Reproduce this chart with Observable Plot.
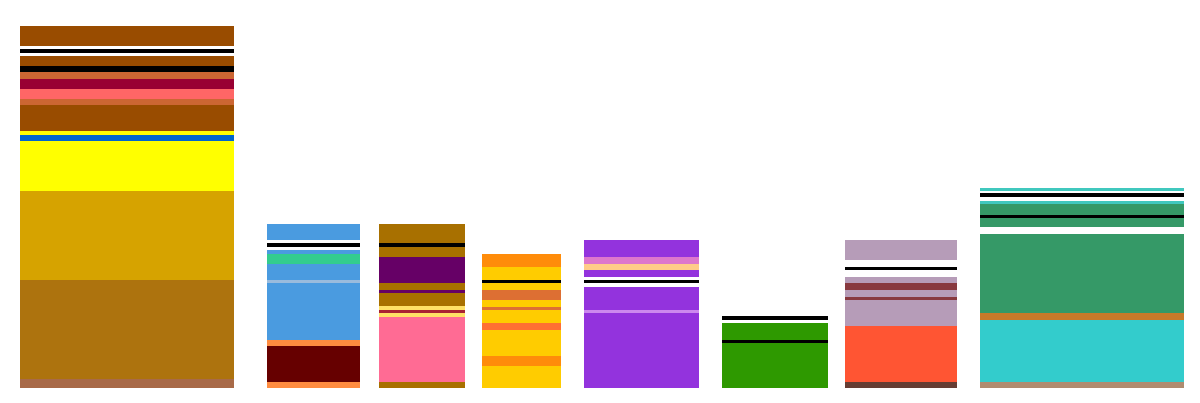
<!DOCTYPE html>
<html>
<head>
<meta charset="utf-8">
<script src="https://cdn.jsdelivr.net/npm/d3@7"></script>
<script src="https://cdn.jsdelivr.net/npm/@observablehq/plot@0.6"></script>
<style>
  html, body { margin: 0; padding: 0; background: #fff; }
  #chart svg { display: block; }
</style>
</head>
<body>
<div id="chart"></div>
<script>
// Categories (one stacked column each)
const categories = ["A", "B", "C", "D", "E", "F", "G", "H"];
// Column extents on the x axis
const xStart = [20, 267, 379, 482, 584, 722, 845, 980];
const xEnd   = [234, 360, 465, 561, 699, 828, 957, 1184];

// Segment values, bottom to top, and their colour keys
const valuesA = [9, 99, 89, 50, 6, 4, 26, 6, 10, 10, 7, 6, 10, 3, 4, 3, 20];
const keysA   = ["sienna","dkgold","gold","yellow","blue","yellow","brown","rust","salmon","crimson","rust","black","brown","white","black","white","brown"];

const valuesB = [6, 36, 6, 57, 3, 16, 10, 4, 3, 4, 3, 16];
const keysB   = ["orangeB","maroonB","orangeB","skyB","paleB","skyB","mintB","skyB","white","black","white","skyB"];

const valuesC = [6, 65, 4, 3, 4, 13, 3, 7, 26, 10, 4, 19];
const keysC   = ["ochreC","pinkC","creamC","redC","creamC","ochreC","plumC","ochreC","plumC","ochreC","black","ochreC"];

const valuesD = [22, 10, 26, 7, 13, 3, 7, 10, 7, 3, 13, 13];
const keysD   = ["amberD","orangeD","amberD","coralD","amberD","rustD","amberD","rustD","amberD","black","amberD","orangeD"];

const valuesE = [75, 3, 23, 4, 3, 3, 7, 6, 7, 17];
const keysE   = ["violetE","lilacE","violetE","white","black","white","violetE","peachE","orchidE","violetE"];

const valuesF = [45, 3, 17, 3, 4];
const keysF   = ["greenF","black","greenF","white","black"];

const valuesG = [6, 56, 26, 3, 7, 7, 6, 7, 3, 7, 20];
const keysG   = ["umberG","tomatoG","mauveG","wineG","mauveG","wineG","mauveG","white","black","white","mauveG"];

const valuesH = [6, 62, 7, 79, 7, 9, 3, 11, 3, 4, 4, 2, 3];
const keysH   = ["tanH","aquaH","copperH","jadeH","white","jadeH","black","jadeH","tealH","white","black","white","tealH"];

const palette = {
  white: "#ffffff", black: "#000000",
  sienna: "#a86a48", dkgold: "#ad730e", gold: "#d6a300", yellow: "#ffff00", blue: "#0066cc",
  brown: "#994c00", rust: "#cc6633", salmon: "#ff6666", crimson: "#990033",
  orangeB: "#ff8c40", maroonB: "#660000", skyB: "#4a9be0", paleB: "#99bbdd", mintB: "#33cc8f",
  ochreC: "#a87000", pinkC: "#ff6b94", creamC: "#ffe066", redC: "#aa2233", plumC: "#660066",
  amberD: "#ffcc00", orangeD: "#ff8c0a", coralD: "#ff7033", rustD: "#dd6f33",
  violetE: "#9333dd", lilacE: "#cc88ee", peachE: "#ffcc88", orchidE: "#dd77cc",
  greenF: "#2e9900",
  umberG: "#663d33", tomatoG: "#ff5533", mauveG: "#b69cb8", wineG: "#88393f",
  tanH: "#b08c70", aquaH: "#33cccc", copperH: "#c87a2a", jadeH: "#359967", tealH: "#40c8be"
};

const allValues = [valuesA, valuesB, valuesC, valuesD, valuesE, valuesF, valuesG, valuesH];
const allKeys = [keysA, keysB, keysC, keysD, keysE, keysF, keysG, keysH];

const rows = [];
categories.forEach((cat, i) => {
  let acc = 0;
  allValues[i].forEach((v, j) => {
    rows.push({category: cat, x1: xStart[i], x2: xEnd[i], y1: acc, y2: acc + v, key: allKeys[i][j]});
    acc += v;
  });
});

const chart = Plot.plot({
  width: 1200,
  height: 403,
  marginLeft: 0,
  marginRight: 0,
  marginTop: 0,
  marginBottom: 15,
  x: {domain: [0, 1200], axis: null},
  y: {domain: [0, 388], axis: null},
  color: {domain: Object.keys(palette), range: Object.values(palette)},
  marks: [
    Plot.rect(rows, {x1: "x1", x2: "x2", y1: "y1", y2: "y2", fill: "key"})
  ]
});
document.getElementById("chart").appendChild(chart);
</script>
</body>
</html>
